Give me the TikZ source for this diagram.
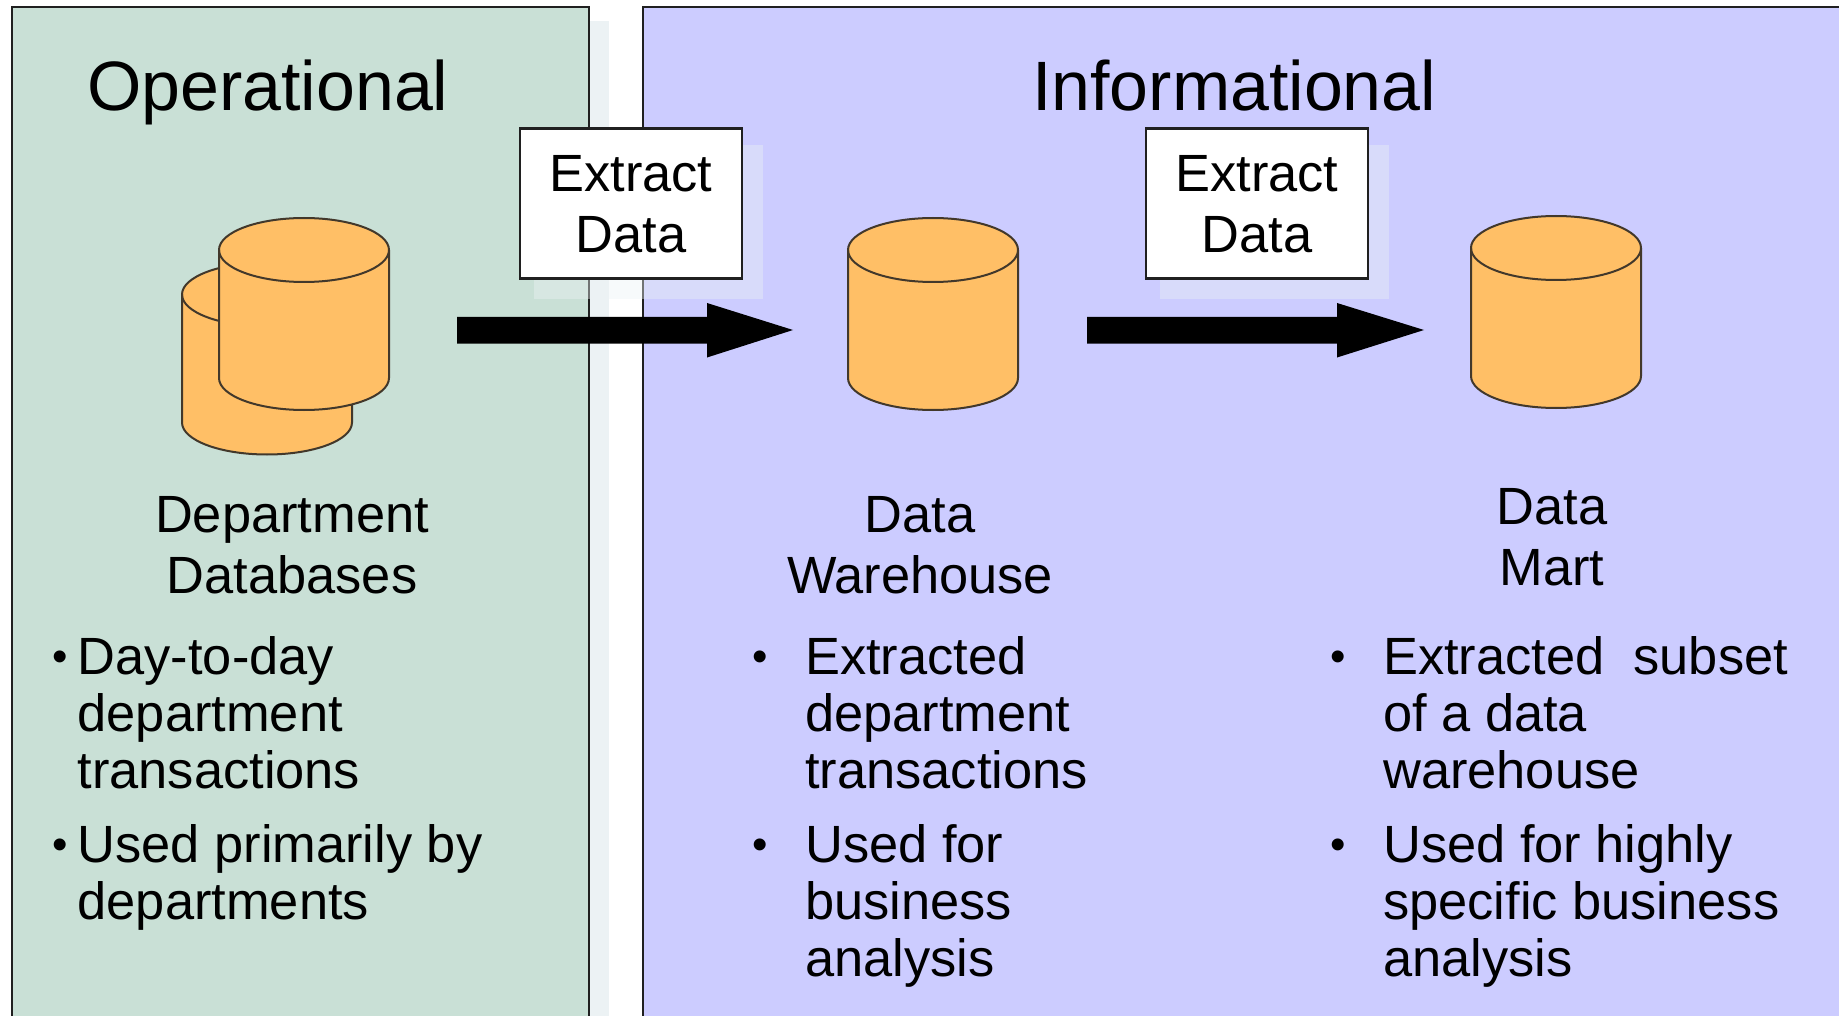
\documentclass[tikz,border=0pt]{standalone}
\usepackage{fontspec}
\setmainfont{Liberation Sans}
\definecolor{opgreen}{HTML}{C9E0D6}
\definecolor{infoblue}{HTML}{CCCCFF}
\definecolor{dborange}{HTML}{FFBF66}
\definecolor{edge}{HTML}{202020}
\definecolor{shade}{HTML}{ECF2F4}
\tikzset{
  panel/.style={draw=edge,line width=2.4pt},
  softshadow/.style={fill=shade},
  boxshadow/.style={fill=shade,fill opacity=.4},
  extractbox/.style={draw=edge,line width=2.2pt,fill=white,minimum width=222pt,minimum height=150pt,inner sep=0pt,align=center,font=\fontsize{52.4}{61}\selectfont},
  title/.style={anchor=base west,inner sep=0pt,font=\fontsize{69.9}{80}\selectfont},
  label/.style={anchor=base,inner sep=0pt,align=center,font=\fontsize{52.4}{61}\selectfont},
  bodytext/.style={anchor=base west,inner sep=0pt,align=left,font=\fontsize{52.4}{57}\selectfont},
  bulletmark/.style={anchor=base,inner sep=0pt,font=\fontsize{44}{44}\selectfont},
  flow/.style={fill=black},
  pics/dbcyl/.style={code={
    \path[fill=dborange] (-85,0) -- (-85,128) arc[start angle=180,end angle=360,x radius=85pt,y radius=32pt] -- (85,0) arc[start angle=0,end angle=180,x radius=85pt,y radius=32pt] -- cycle;
    \draw[edge!85!dborange,line width=2pt] (-85,0) -- (-85,128) arc[start angle=180,end angle=360,x radius=85pt,y radius=32pt] -- (85,0) arc[start angle=0,end angle=180,x radius=85pt,y radius=32pt];
    \draw[edge!85!dborange,line width=2pt] (-85,0) arc[start angle=180,end angle=360,x radius=85pt,y radius=32pt];
  }},
}
\begin{document}
\begin{tikzpicture}[x=1pt,y=-1pt]
\useasboundingbox (0,0) rectangle (1839,1016);
\clip (0,0) rectangle (1839,1016);
% panels
\fill[softshadow] (589,21) rectangle (609,1030);
\path[panel,fill=opgreen] (12,7) rectangle (589,1030);
\path[panel,fill=infoblue] (643,7) rectangle (1850,1030);
% box shadows
\fill[boxshadow] (534,145) rectangle (763,299);
\fill[boxshadow] (1160,145) rectangle (1389,299);
% titles
\node[title] (optitle) at (87,111) {Operational};
\node[title] (infotitle) at (1032,111) {Informational};
% cylinders
\pic at (267,294.5) {dbcyl};
\pic at (304,250) {dbcyl};
\pic at (933,250) {dbcyl};
\pic at (1556,248) {dbcyl};
% flows
\coordinate (a1s) at (457,330);
\coordinate (a1e) at (793,330);
\coordinate (a2s) at (1087,330);
\coordinate (a2e) at (1424,330);
\fill[flow] (a1s) ++(0,-13) -- ++(250,0) -- ++(0,-14) -- (a1e) -- ++(-86,27.5) -- ++(0,-14) -- ++(-250,0) -- cycle;
\fill[flow] (a2s) ++(0,-13) -- ++(250,0) -- ++(0,-14) -- (a2e) -- ++(-87,27.5) -- ++(0,-14) -- ++(-250,0) -- cycle;
% extract boxes
\node[extractbox] (ex1) at (631,203.5) {\rule{0pt}{38.5pt}Extract\\Data};
\node[extractbox] (ex2) at (1257,203.5) {\rule{0pt}{38.5pt}Extract\\Data};
% labels
\node[label] (lab1) at (292,593) {Department\\Databases};
\node[label] (lab2) at (920,593) {Data\\Warehouse};
\node[label] (lab3) at (1552,585) {Data\\Mart};
% left bullets
\node[bulletmark] (b1) at (60,671) {•};
\node[bodytext] (t1) at (77.5,788) {Day-to-day\\department\\transactions};
\node[bulletmark] (b2) at (60,859) {•};
\node[bodytext] (t2) at (77.5,919) {Used primarily by\\departments};
% middle bullets
\node[bulletmark] (b3) at (760,671) {•};
\node[bodytext] (t3) at (805,788) {Extracted\\department\\transactions};
\node[bulletmark] (b4) at (760,859) {•};
\node[bodytext] (t4) at (805,976) {Used for\\business\\analysis};
% right bullets
\node[bulletmark] (b5) at (1338.5,671) {•};
\node[bodytext] (t5) at (1383,788) {Extracted\ \ subset\\of a data\\warehouse};
\node[bulletmark] (b6) at (1338.5,859) {•};
\node[bodytext] (t6) at (1383,976) {Used for highly\\specific business\\analysis};
\end{tikzpicture}
\end{document}
